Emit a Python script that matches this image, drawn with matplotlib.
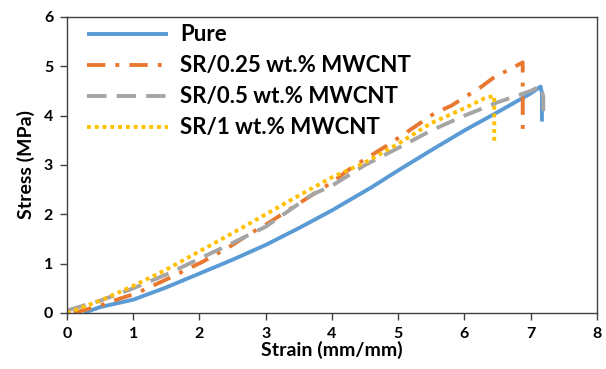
import numpy as np
import matplotlib
matplotlib.use("Agg")
from matplotlib import pyplot as plt

plt.rcParams['font.family'] = ['Lato', 'DejaVu Sans']
plt.rcParams['font.weight'] = 'bold'

# curves (strain mm/mm, stress MPa)
pure_x = [0.25, 0.5, 1.0, 1.5, 2.0, 2.5, 3.0, 3.5, 4.0, 4.6, 5.0, 5.5, 6.0, 6.5, 7.0, 7.15, 7.17, 7.17]
pure_y = [0.0, 0.12, 0.27, 0.52, 0.8, 1.08, 1.38, 1.72, 2.08, 2.55, 2.89, 3.3, 3.7, 4.07, 4.45, 4.59, 4.45, 3.88]

sr025_x = [0.1, 0.5, 0.75, 1.05, 1.5, 2.05, 2.5, 2.75, 3.0, 3.5, 4.0, 4.3, 4.85, 5.3, 5.55, 5.8, 6.25, 6.45, 6.7, 6.88, 6.88, 6.88]
sr025_y = [0.0, 0.15, 0.27, 0.4, 0.68, 1.04, 1.38, 1.6, 1.79, 2.22, 2.65, 2.95, 3.41, 3.82, 4.05, 4.2, 4.58, 4.78, 4.95, 5.08, 4.3, 3.6]

sr05_x = [0.0, 0.5, 1.0, 1.5, 2.0, 2.5, 3.0, 3.7, 4.0, 4.5, 5.05, 5.5, 6.0, 6.5, 7.0, 7.15, 7.19, 7.19]
sr05_y = [0.05, 0.25, 0.5, 0.78, 1.1, 1.42, 1.75, 2.4, 2.58, 3.0, 3.38, 3.7, 4.0, 4.27, 4.5, 4.6, 4.39, 4.05]

sr1_x = [0.0, 0.5, 1.0, 1.5, 2.0, 2.5, 3.0, 3.5, 4.0, 4.5, 5.0, 5.5, 6.0, 6.3, 6.45, 6.45]
sr1_y = [0.0, 0.25, 0.55, 0.88, 1.25, 1.62, 2.0, 2.38, 2.75, 3.05, 3.43, 3.85, 4.15, 4.35, 4.4, 3.45]

labels = ['Pure', 'SR/0.25 wt.% MWCNT', 'SR/0.5 wt.% MWCNT', 'SR/1 wt.% MWCNT']

fig = plt.figure(figsize=(6.06, 3.69), dpi=100)
ax = fig.add_axes([0.1106, 0.1518, 0.8744, 0.8022])

lw = 2.8
ax.plot(pure_x, pure_y, color='#5B9BD5', lw=lw, label=labels[0], solid_capstyle='butt')
ax.plot(sr025_x, sr025_y, color='#E8782F', lw=lw, label=labels[1],
        dashes=(4.7, 2.6, 1, 2.6), dash_capstyle='butt')
ax.plot(sr05_x, sr05_y, color='#A5A5A5', lw=lw, label=labels[2],
        dashes=(5, 2.6), dash_capstyle='butt')
ax.plot(sr1_x, sr1_y, color='#FFC000', lw=lw, label=labels[3],
        dashes=(1, 1), dash_capstyle='butt')

ax.set_xlim(0, 8)
ax.set_ylim(0, 6)
ax.set_xticks(range(0, 9))
ax.set_yticks(range(0, 7))
ax.tick_params(direction='out', length=5, width=1, labelsize=11.5, color='#404040', pad=5)
for s in ax.spines.values():
    s.set_color('#404040')
    s.set_linewidth(1)

ax.set_xlabel('Strain (mm/mm)', fontsize=14, fontweight='bold', labelpad=0)
ax.set_ylabel('Stress (MPa)', fontsize=14, fontweight='bold', labelpad=6)

leg = ax.legend(loc='upper left', frameon=False, fontsize=16, handlelength=3.65,
                handletextpad=0.55, labelspacing=0.45, borderaxespad=0.0,
                borderpad=0.0, bbox_to_anchor=(0.038, 0.975))

fig.savefig('out.png', dpi=100)
